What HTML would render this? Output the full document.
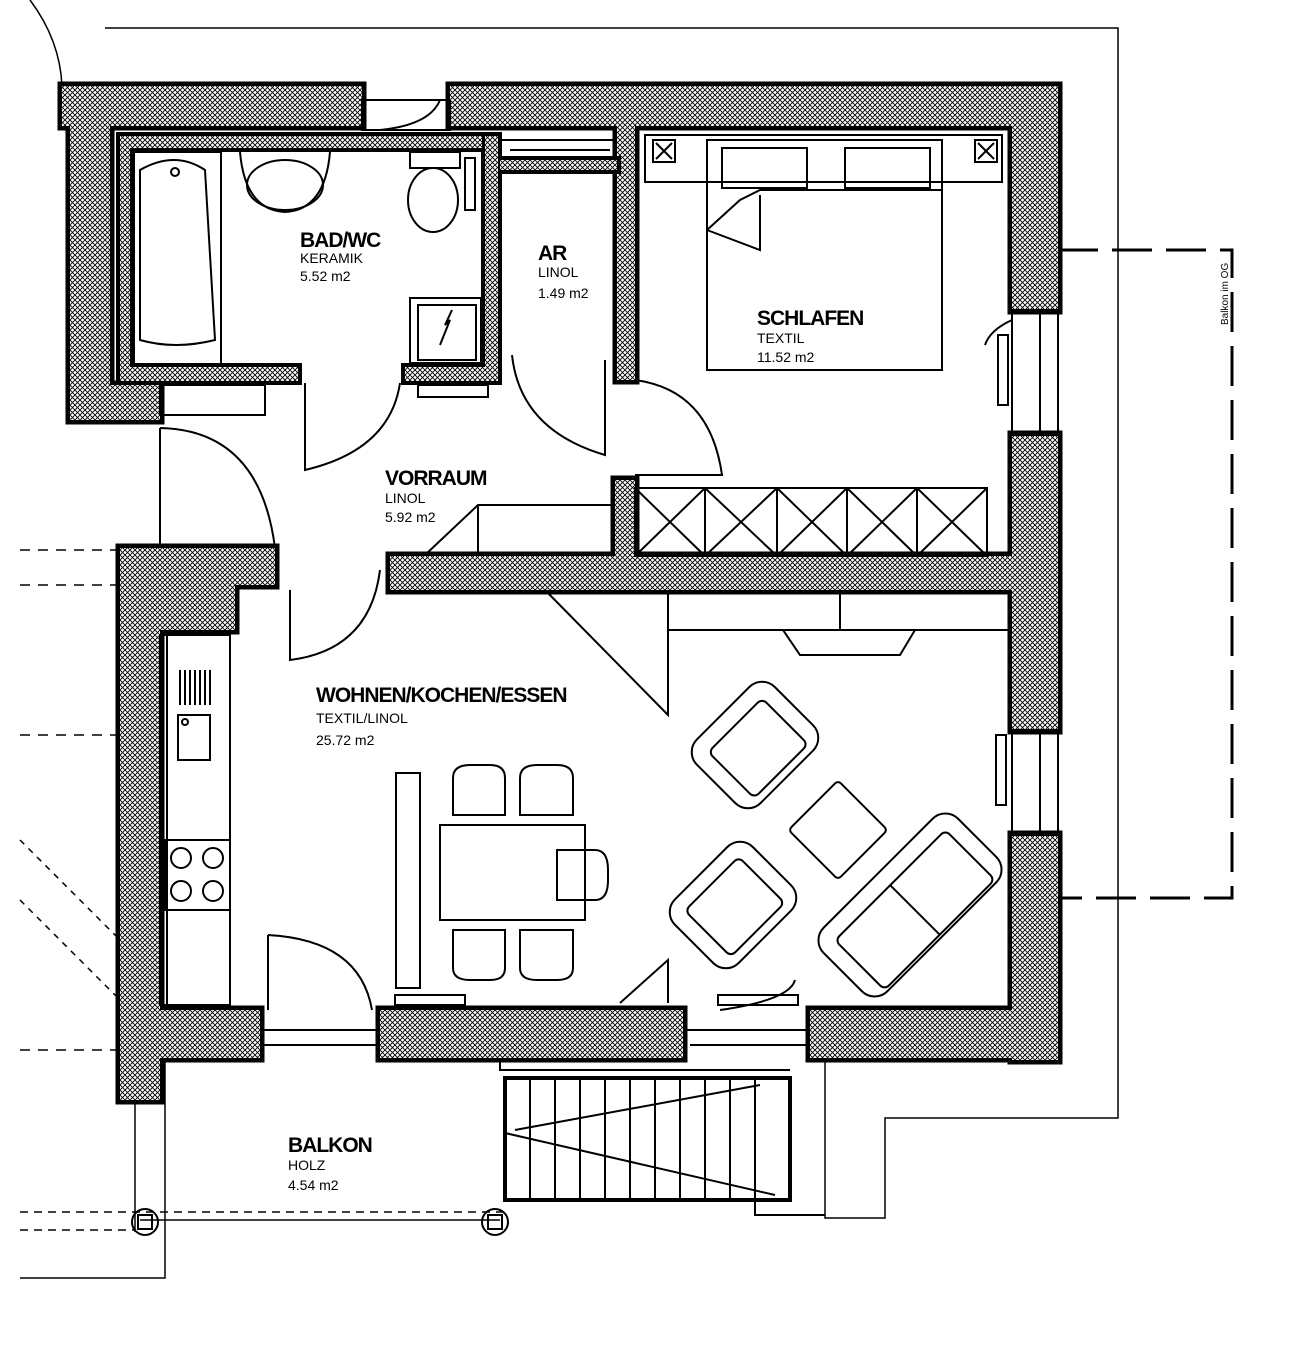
<!DOCTYPE html>
<html><head><meta charset="utf-8"><style>
html,body{margin:0;padding:0;background:#fff}
svg{display:block}
text{font-family:"Liberation Sans",sans-serif;fill:#000}
.t{font-size:21px;font-weight:bold;letter-spacing:-1px}
.s{font-size:14px}
</style></head><body>
<svg width="1306" height="1368" viewBox="0 0 1306 1368" xmlns="http://www.w3.org/2000/svg">
<defs>
<pattern id="h" width="5" height="5" patternUnits="userSpaceOnUse">
<rect width="5" height="5" fill="#fff"/>
<path d="M0 0L5 5M5 0L0 5" stroke="#000" stroke-width="0.9"/>
</pattern>
</defs>
<g fill="none" stroke="#000" stroke-width="1.5">
<path d="M105 28H1118V1118H885V1218H825V1058"/>
<path d="M30 0Q60 40 62 86"/>
<path d="M1058 250H1232V898H1058" stroke-dasharray="40 14" stroke-width="3"/>
<path d="M20 1278H165V1058M135 1100V1232M140 1220H500"/>
<path d="M20 1212H505M20 1230H135" stroke-dasharray="8 6"/>
<path d="M20 550H120M20 585H120M20 735H120M20 1050H120" stroke-dasharray="10 8"/>
<path d="M20 900L120 1000M20 840L120 940" stroke-dasharray="6 6"/>
</g>
<g id="w">
<rect x="62" y="86" width="300" height="40"/>
<rect x="450" y="86" width="608" height="40"/>
<rect x="70" y="86" width="40" height="334"/>
<rect x="70" y="385" width="90" height="35"/>
<rect x="1012" y="86" width="46" height="224"/>
<rect x="1012" y="435" width="46" height="295"/>
<rect x="1012" y="835" width="46" height="225"/>
<rect x="120" y="1010" width="140" height="48"/>
<rect x="380" y="1010" width="303" height="48"/>
<rect x="810" y="1010" width="248" height="48"/>
<rect x="120" y="548" width="40" height="552"/>
<rect x="120" y="548" width="155" height="37"/>
<rect x="390" y="556" width="622" height="34"/>
<rect x="150" y="585" width="85" height="45"/>
<rect x="617" y="126" width="18" height="254"/>
<rect x="615" y="480" width="20" height="78"/>
</g>
<use href="#w" fill="#000" stroke="#000" stroke-width="9"/>
<use href="#w" fill="url(#h)" stroke="none"/>
<g id="w2">
<rect x="120" y="136" width="362" height="12"/>
<rect x="120" y="136" width="10" height="238"/>
<rect x="120" y="367" width="178" height="14"/>
<rect x="405" y="367" width="93" height="14"/>
<rect x="485" y="136" width="13" height="245"/>
<rect x="500" y="160" width="117" height="10"/>
</g>
<use href="#w2" fill="#000" stroke="#000" stroke-width="8"/>
<use href="#w2" fill="url(#h)" stroke="none"/>
<g fill="none" stroke="#000" stroke-width="2">
<rect x="362" y="100" width="88" height="30"/><path d="M380 130Q430 125 440 100"/>
<path d="M500 140H617M510 150H610"/>
<rect x="1012" y="310" width="46" height="125"/><path d="M1040 310V435M1012 320Q990 330 985 345"/>
<rect x="998" y="335" width="10" height="70"/>
<rect x="1012" y="730" width="46" height="105"/><path d="M1040 730V835"/>
<rect x="996" y="735" width="10" height="70"/>
<path d="M260 1030H380M260 1045H380M683 1030H810M690 1045H810"/>
<rect x="395" y="995" width="70" height="10"/><rect x="718" y="995" width="80" height="10"/>
<rect x="134" y="152" width="87" height="212"/>
<path d="M140 170Q175 150 205 170L215 340Q175 350 140 340Z"/>
<circle cx="175" cy="172" r="4"/>
<path d="M240 152Q245 210 285 212Q325 210 330 152"/>
<ellipse cx="285" cy="185" rx="38" ry="25"/>
<rect x="410" y="152" width="50" height="16"/>
<ellipse cx="433" cy="200" rx="25" ry="32"/>
<rect x="465" y="158" width="10" height="52"/>
<rect x="410" y="298" width="71" height="65"/><rect x="418" y="305" width="58" height="55"/>
<path d="M440 345L450 320L445 325L452 310"/>
<rect x="418" y="385" width="70" height="12"/>
<rect x="160" y="385" width="105" height="30"/>
<path d="M305 383V470Q390 450 400 383"/>
<path d="M512 355Q520 430 605 455V360"/>
<path d="M635 380Q710 390 722 475H635"/>
<path d="M160 428Q260 430 275 548M160 428V548"/>
<path d="M290 590V660Q370 650 380 570"/>
<path d="M268 935V1010M268 935Q360 940 372 1010"/>
<path d="M720 1010Q790 1000 795 980"/>
<path d="M425 555L478 505H615M478 505V555"/>
<rect x="635" y="488" width="352" height="68"/>
<path d="M635 488L705 556M705 488L635 556M705 488L777 556M777 488L705 556M777 488L847 556M847 488L777 556M847 488L917 556M917 488L847 556M917 488L987 556M987 488L917 556"/>
<path d="M705 488V556M777 488V556M847 488V556M917 488V556"/>
<rect x="645" y="135" width="357" height="47"/>
<rect x="707" y="140" width="235" height="230"/>
<rect x="722" y="148" width="85" height="40"/><rect x="845" y="148" width="85" height="40"/>
<path d="M707 230L740 200L760 190H942M707 230L760 250L760 195"/>
<rect x="653" y="140" width="22" height="22"/><path d="M656 143L672 159M672 143L656 159"/>
<rect x="975" y="140" width="22" height="22"/><path d="M978 143L994 159M994 143L978 159"/>
<path d="M545 590L668 715V590M668 630H1012M783 630L800 655H900L915 630M840 590V630"/>
<path d="M620 1003L668 960V1003"/>
<rect x="160" y="635" width="70" height="370"/>
<path d="M167 635V1005"/>
<path d="M180 670V705M185 670V705M190 670V705M195 670V705M200 670V705M205 670V705M210 670V705"/>
<rect x="178" y="715" width="32" height="45"/><circle cx="185" cy="722" r="3"/>
<rect x="165" y="840" width="65" height="70"/>
<circle cx="181" cy="858" r="10"/><circle cx="213" cy="858" r="10"/>
<circle cx="181" cy="891" r="10"/><circle cx="213" cy="891" r="10"/>
<rect x="396" y="773" width="24" height="215"/>
<rect x="440" y="825" width="145" height="95"/>
<path d="M453 815V778Q453 765 470 765H490Q505 765 505 778V815Z"/>
<path d="M520 815V778Q520 765 537 765H557Q573 765 573 778V815Z"/>
<path d="M453 930V968Q453 980 470 980H490Q505 980 505 968V930Z"/>
<path d="M520 930V968Q520 980 537 980H557Q573 980 573 968V930Z"/>
<path d="M557 850H595Q608 850 608 870V880Q608 900 595 900H557Z"/>
<g transform="translate(755,745) rotate(-45)"><rect x="-55" y="-45" width="110" height="90" rx="18"/><rect x="-38" y="-28" width="76" height="65" rx="6"/></g>
<g transform="translate(838,830) rotate(-45)"><rect x="-35" y="-35" width="70" height="70" rx="4"/></g>
<g transform="translate(733,905) rotate(-45)"><rect x="-55" y="-45" width="110" height="90" rx="18"/><rect x="-38" y="-30" width="76" height="65" rx="6"/></g>
<g transform="translate(910,905) rotate(-45)"><rect x="-95" y="-45" width="190" height="90" rx="18"/><rect x="-78" y="-28" width="156" height="70" rx="6"/><path d="M0 -28V42"/></g>
<rect x="505" y="1078" width="285" height="122" stroke-width="4"/>
<path d="M530 1078V1200M555 1078V1200M580 1078V1200M605 1078V1200M630 1078V1200M655 1078V1200M680 1078V1200M705 1078V1200M730 1078V1200M755 1078V1200"/>
<path d="M515 1130L760 1085M505 1133L775 1195"/>
<path d="M500 1060V1070H790M755 1200V1215H825"/>
<circle cx="145" cy="1222" r="13"/><rect x="138" y="1215" width="14" height="14"/>
<circle cx="495" cy="1222" r="13"/><rect x="488" y="1215" width="14" height="14"/>
</g>
<text class="t" x="300" y="247">BAD/WC</text>
<text class="s" x="300" y="263">KERAMIK</text>
<text class="s" x="300" y="281">5.52 m2</text>
<text class="t" x="538" y="260">AR</text>
<text class="s" x="538" y="277">LINOL</text>
<text class="s" x="538" y="298">1.49 m2</text>
<text class="t" x="757" y="325">SCHLAFEN</text>
<text class="s" x="757" y="343">TEXTIL</text>
<text class="s" x="757" y="362">11.52 m2</text>
<text class="t" x="385" y="485">VORRAUM</text>
<text class="s" x="385" y="503">LINOL</text>
<text class="s" x="385" y="522">5.92 m2</text>
<text class="t" x="316" y="702">WOHNEN/KOCHEN/ESSEN</text>
<text class="s" x="316" y="723">TEXTIL/LINOL</text>
<text class="s" x="316" y="745">25.72 m2</text>
<text class="t" x="288" y="1152">BALKON</text>
<text class="s" x="288" y="1170">HOLZ</text>
<text class="s" x="288" y="1190">4.54 m2</text>
<text x="1228" y="325" font-size="10" transform="rotate(-90 1228 325)">Balkon im OG</text>
</svg>
</body></html>
